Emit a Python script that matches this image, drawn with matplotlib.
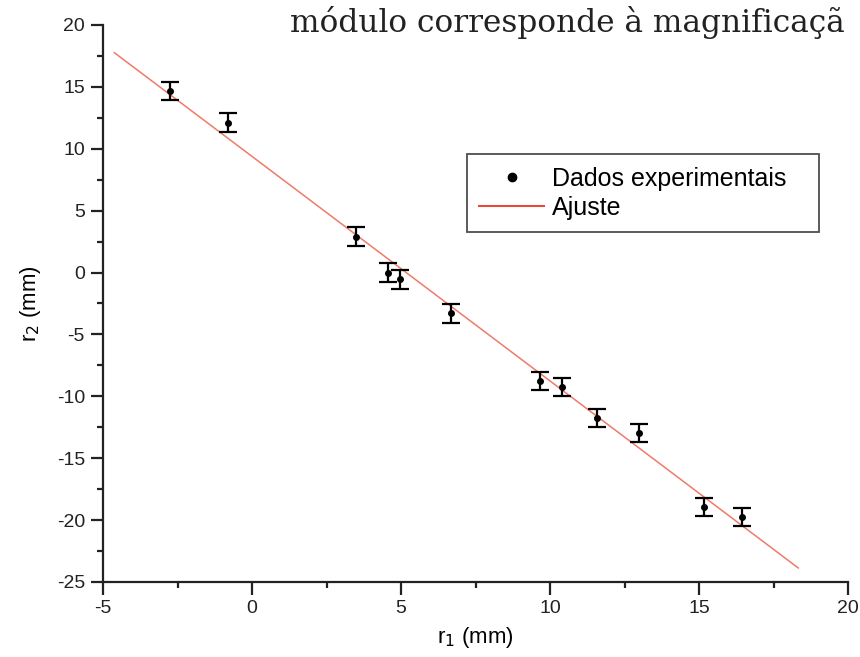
import matplotlib.pyplot as plt
from matplotlib.ticker import MultipleLocator
from matplotlib.lines import Line2D
import numpy as np

plt.rcParams['font.family'] = ['Liberation Sans', 'DejaVu Sans']
plt.rcParams['axes.unicode_minus'] = False

# experimental data (mm)
r1 = [-2.75, -0.80, 3.49, 4.55, 4.97, 6.68, 9.66, 10.39, 11.57, 12.99, 15.17, 16.45]
r2 = [14.67, 12.10, 2.90, 0.00, -0.55, -3.30, -8.75, -9.25, -11.75, -12.95, -18.95, -19.75]
r2Err = [0.75, 0.75, 0.75, 0.75, 0.75, 0.75, 0.75, 0.75, 0.75, 0.75, 0.75, 0.75]

# linear fit
fitSlope = -1.814
fitIntercept = 9.38
fitRange = [-4.62, 18.33]

fig = plt.figure(figsize=(8.6, 6.57), dpi=100)
ax = fig.add_axes([0.1198, 0.1142, 0.8663, 0.8478])

xFit = np.array(fitRange)
ax.plot(xFit, fitSlope * xFit + fitIntercept, color='#f07a6a', lw=1.1, zorder=2)
ax.errorbar(r1, r2, yerr=r2Err, fmt='o', color='black', ms=4, elinewidth=1.6,
	capsize=6.5, capthick=1.6, zorder=3)

ax.set_xlim(-5, 20)
ax.set_ylim(-25, 20)
ax.xaxis.set_major_locator(MultipleLocator(5))
ax.xaxis.set_minor_locator(MultipleLocator(2.5))
ax.yaxis.set_major_locator(MultipleLocator(5))
ax.yaxis.set_minor_locator(MultipleLocator(2.5))
ax.spines['top'].set_visible(False)
ax.spines['right'].set_visible(False)
for s in ['left', 'bottom']:
	ax.spines[s].set_linewidth(1.6)
	ax.spines[s].set_color('#222222')
ax.tick_params(which='major', direction='out', length=9, width=1.6, labelsize=14, pad=4, colors='#222222')
ax.tick_params(which='minor', direction='out', length=4.5, width=1.6, colors='#222222')

ax.set_xlabel('r$_1$ (mm)', fontsize=16, labelpad=6)
ax.set_ylabel('r$_2$ (mm)', fontsize=16, labelpad=10)

handles = [Line2D([], [], ls='none', marker='o', ms=6, color='black'),
	Line2D([], [], color='#e84a3a', lw=1.5)]
leg = ax.legend(handles, ['Dados experimentais', 'Ajuste'], loc='upper left',
	bbox_to_anchor=(0.488, 0.627, 0.473, 0.141), mode='expand',
	borderaxespad=0, fontsize=18, frameon=True, fancybox=False, handlelength=2.6,
	handletextpad=0.3, borderpad=0.5, labelspacing=0.2)
leg.get_frame().set_edgecolor('#222222')
leg.get_frame().set_linewidth(1.3)

# text from the page behind the figure (cut off in the reference as well)
fig.text(290 / 860, 1 - 32 / 657, 'módulo corresponde à magnificaçã', family='DejaVu Serif',
	fontsize=22.5, color='#222222', ha='left', va='baseline')

plt.savefig('out.png', dpi=100)
